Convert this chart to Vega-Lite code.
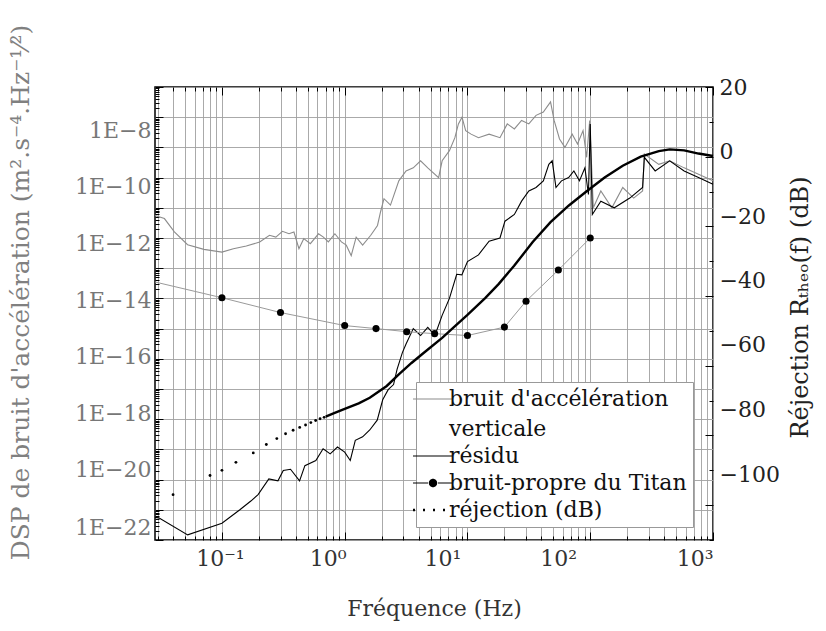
{
  "$schema": "https://vega.github.io/schema/vega-lite/v6.json",
  "width": 558,
  "height": 453,
  "autosize": {"type": "none"},
  "padding": {"left": 155, "top": 87, "right": 113, "bottom": 91},
  "background": "white",
  "config": {
    "view": {"stroke": "#000", "strokeWidth": 1.5},
    "font": "DejaVu Serif",
    "axis": {
      "labelFont": "DejaVu Serif", "titleFont": "DejaVu Serif",
      "labelFontSize": 22, "titleFontSize": 22, "titleFontWeight": "normal",
      "domain": false, "tickColor": "#000", "tickWidth": 1,
      "gridColor": "#a0a0a0", "gridWidth": 0.9, "labelOverlap": false
    }
  },
  "datasets": {
    "gray": [
      {"f": 0.0285, "v": 5.6e-12}, {"f": 0.034, "v": 4.4e-12}, {"f": 0.041, "v": 1.6e-12}, {"f": 0.0525, "v": 6.0e-13},
      {"f": 0.0713, "v": 4.2e-13}, {"f": 0.1, "v": 3.4e-13}, {"f": 0.124, "v": 4.4e-13}, {"f": 0.158, "v": 5.4e-13},
      {"f": 0.203, "v": 7.4e-13}, {"f": 0.244, "v": 1.23e-12}, {"f": 0.275, "v": 1.07e-12}, {"f": 0.311, "v": 1.66e-12},
      {"f": 0.352, "v": 1.38e-12}, {"f": 0.386, "v": 1.58e-12}, {"f": 0.424, "v": 4.4e-13}, {"f": 0.464, "v": 9.5e-13},
      {"f": 0.525, "v": 6.5e-13}, {"f": 0.612, "v": 1.38e-12}, {"f": 0.671, "v": 1.07e-12}, {"f": 0.736, "v": 7.4e-13},
      {"f": 0.832, "v": 1.38e-12}, {"f": 0.94, "v": 7.4e-13}, {"f": 1.03, "v": 5.8e-13}, {"f": 1.13, "v": 2.6e-13},
      {"f": 1.24, "v": 1.07e-12}, {"f": 1.4, "v": 5.8e-13}, {"f": 1.63, "v": 1.23e-12}, {"f": 1.85, "v": 2.6e-12},
      {"f": 1.96, "v": 7.4e-12}, {"f": 2.09, "v": 2.0e-11}, {"f": 2.36, "v": 1.23e-11}, {"f": 2.76, "v": 7.8e-11},
      {"f": 3.16, "v": 1.66e-10}, {"f": 3.62, "v": 2.1e-10}, {"f": 4.15, "v": 3.6e-10}, {"f": 4.75, "v": 2.1e-10},
      {"f": 5.82, "v": 1.0e-10}, {"f": 6.22, "v": 3.6e-10}, {"f": 7.13, "v": 7.8e-10}, {"f": 7.9, "v": 2.1e-9},
      {"f": 8.44, "v": 6.0e-9}, {"f": 9.03, "v": 1.0e-8}, {"f": 9.67, "v": 3.6e-9}, {"f": 10.7, "v": 2.75e-9},
      {"f": 12.3, "v": 2.1e-9}, {"f": 15.0, "v": 2.75e-9}, {"f": 18.4, "v": 2.1e-9}, {"f": 21.1, "v": 6.0e-9},
      {"f": 24.1, "v": 4.1e-9}, {"f": 27.6, "v": 7.8e-9}, {"f": 31.6, "v": 6.0e-9}, {"f": 36.2, "v": 1.15e-8},
      {"f": 41.5, "v": 1.48e-8}, {"f": 47.5, "v": 3.2e-8}, {"f": 50.8, "v": 7.8e-9}, {"f": 56.2, "v": 1.9e-9},
      {"f": 62.2, "v": 1.0e-9}, {"f": 71.3, "v": 2.75e-9}, {"f": 78.8, "v": 1.3e-9}, {"f": 87.4, "v": 3.6e-9},
      {"f": 93.5, "v": 4.7e-10}, {"f": 99, "v": 7.8e-9}, {"f": 106, "v": 1.0e-11}, {"f": 122, "v": 3.6e-11},
      {"f": 150, "v": 1.0e-11}, {"f": 184, "v": 4.7e-11}, {"f": 226, "v": 2.1e-11}, {"f": 267, "v": 3.6e-11},
      {"f": 276, "v": 6.0e-10}, {"f": 362, "v": 2.75e-10}, {"f": 444, "v": 3.6e-10}, {"f": 582, "v": 2.1e-10},
      {"f": 762, "v": 1.3e-10}, {"f": 1000, "v": 7.8e-11}
    ],
    "res": [
      {"f": 0.0285, "v": 5.6e-22}, {"f": 0.0306, "v": 5.4e-22}, {"f": 0.0526, "v": 1.48e-22}, {"f": 0.1, "v": 3.6e-22},
      {"f": 0.14, "v": 1.0e-21}, {"f": 0.172, "v": 1.95e-21}, {"f": 0.197, "v": 3.2e-21}, {"f": 0.241, "v": 1.05e-20},
      {"f": 0.286, "v": 9.1e-21}, {"f": 0.316, "v": 2.0e-20}, {"f": 0.362, "v": 2.2e-20}, {"f": 0.429, "v": 9.1e-21},
      {"f": 0.474, "v": 2.9e-20}, {"f": 0.582, "v": 4.3e-20}, {"f": 0.667, "v": 1.05e-19}, {"f": 0.762, "v": 7.1e-20},
      {"f": 0.873, "v": 1.2e-19}, {"f": 1.0, "v": 8.1e-20}, {"f": 1.11, "v": 4.3e-20}, {"f": 1.22, "v": 2.0e-19},
      {"f": 1.4, "v": 2.6e-19}, {"f": 1.6, "v": 4.4e-19}, {"f": 1.84, "v": 9.3e-19}, {"f": 2.04, "v": 4.4e-18},
      {"f": 2.26, "v": 9.5e-18}, {"f": 2.5, "v": 1.4e-17}, {"f": 2.67, "v": 4.5e-17}, {"f": 2.95, "v": 1.6e-16},
      {"f": 3.16, "v": 3.1e-16}, {"f": 3.62, "v": 1.0e-15}, {"f": 4.15, "v": 5.9e-16}, {"f": 4.75, "v": 1.1e-15},
      {"f": 5.43, "v": 5.9e-16}, {"f": 6.22, "v": 2.75e-15}, {"f": 7.13, "v": 1.0e-14}, {"f": 8.17, "v": 6.3e-14},
      {"f": 9.0, "v": 6.0e-14}, {"f": 10, "v": 1.66e-13}, {"f": 12.3, "v": 2.75e-13}, {"f": 15, "v": 7.8e-13},
      {"f": 18.4, "v": 1.0e-12}, {"f": 20.2, "v": 3.6e-12}, {"f": 24.1, "v": 6.0e-12}, {"f": 27.6, "v": 1.66e-11},
      {"f": 31.6, "v": 3.6e-11}, {"f": 36.2, "v": 4.7e-11}, {"f": 41.5, "v": 7.8e-11}, {"f": 46, "v": 2.75e-10},
      {"f": 49, "v": 3.6e-10}, {"f": 52.6, "v": 4.7e-11}, {"f": 58.3, "v": 7.8e-11}, {"f": 66.7, "v": 1.0e-10},
      {"f": 73.6, "v": 1.66e-10}, {"f": 81.7, "v": 7.8e-11}, {"f": 90.5, "v": 2.1e-10}, {"f": 96.7, "v": 2.75e-11},
      {"f": 100, "v": 6.0e-9}, {"f": 104, "v": 6.0e-12}, {"f": 122, "v": 1.66e-11}, {"f": 157, "v": 1.0e-11},
      {"f": 210, "v": 2.1e-11}, {"f": 267, "v": 4.7e-11}, {"f": 276, "v": 4.7e-10}, {"f": 338, "v": 1.66e-10},
      {"f": 444, "v": 3.6e-10}, {"f": 582, "v": 1.66e-10}, {"f": 762, "v": 1.0e-10}, {"f": 1000, "v": 6.0e-11}
    ],
    "titan": [
      {"f": 0.0285, "v": 3.5e-14, "m": 0}, {"f": 0.1, "v": 1.05e-14, "m": 1}, {"f": 0.3, "v": 3.4e-15, "m": 1},
      {"f": 1, "v": 1.26e-15, "m": 1}, {"f": 1.8, "v": 1.0e-15, "m": 1}, {"f": 3.2, "v": 7.9e-16, "m": 1},
      {"f": 5.4, "v": 6.8e-16, "m": 1}, {"f": 10, "v": 5.9e-16, "m": 1}, {"f": 20, "v": 1.12e-15, "m": 1},
      {"f": 30, "v": 8.1e-15, "m": 1}, {"f": 55, "v": 8.7e-14, "m": 1}, {"f": 100, "v": 1.0e-12, "m": 1}
    ],
    "rejdots": [
      {"f": 0.04, "db": -97}, {"f": 0.08, "db": -91.5}, {"f": 0.1, "db": -90}, {"f": 0.13, "db": -87.7},
      {"f": 0.18, "db": -85}, {"f": 0.23, "db": -82.6}, {"f": 0.28, "db": -80.9}, {"f": 0.33, "db": -79.5},
      {"f": 0.38, "db": -78.5}, {"f": 0.43, "db": -77.7}, {"f": 0.48, "db": -77}, {"f": 0.53, "db": -76.3},
      {"f": 0.58, "db": -75.7}, {"f": 0.63, "db": -75.2}, {"f": 0.68, "db": -74.8}
    ],
    "rejline": [
      {"f": 0.7, "db": -74.6}, {"f": 0.82, "db": -73.6}, {"f": 1, "db": -72.4}, {"f": 1.3, "db": -70.8},
      {"f": 1.6, "db": -69.2}, {"f": 2.2, "db": -65.8}, {"f": 2.76, "db": -62.5}, {"f": 3.5, "db": -59.2},
      {"f": 4.44, "db": -56.2}, {"f": 6.22, "db": -52}, {"f": 8, "db": -48.5}, {"f": 10, "db": -45.4},
      {"f": 14, "db": -40.5}, {"f": 18, "db": -36.5}, {"f": 24, "db": -31.3}, {"f": 34, "db": -24.5},
      {"f": 47.5, "db": -18.8}, {"f": 67, "db": -14}, {"f": 93, "db": -10}, {"f": 131, "db": -6},
      {"f": 184, "db": -2.6}, {"f": 258, "db": 0}, {"f": 362, "db": 1.6}, {"f": 444, "db": 2.1},
      {"f": 582, "db": 1.8}, {"f": 762, "db": 0.9}, {"f": 1000, "db": 0.2}
    ]
  },
  "encoding": {
    "x": {
      "field": "f", "type": "quantitative",
      "scale": {"type": "log", "domain": [0.0285, 1000], "nice": false},
      "axis": {
        "title": "Fréquence (Hz)", "titleColor": "#333", "titleFontSize": 22, "titleX": 279, "titleY": 68,
        "titleAlign": "center", "titleBaseline": "middle",
        "values": [0.03,0.04,0.05,0.06,0.07,0.08,0.09,0.1,0.2,0.3,0.4,0.5,0.6,0.7,0.8,0.9,1,2,3,4,5,6,7,8,9,10,20,30,40,50,60,70,80,90,100,200,300,400,500,600,700,800,900,1000],
        "labelExpr": "datum.value == 0.1 ? '10⁻¹' : datum.value == 1 ? '10⁰' : datum.value == 10 ? '10¹' : datum.value == 100 ? '10²' : datum.value == 1000 ? '10³' : ''",
        "labelColor": "#333", "labelPadding": 16, "grid": true,
        "tickSize": {"condition": {"test": "abs(log(datum.value)/LN10 - round(log(datum.value)/LN10)) < 1e-6", "value": -8}, "value": -4},
        "labelOffset": {"condition": [
          {"test": "datum.value == 0.1", "value": -2},
          {"test": "datum.value == 1", "value": -17},
          {"test": "datum.value == 10", "value": -25},
          {"test": "datum.value == 100", "value": -32}
        ], "value": 0}
      }
    }
  },
  "layer": [
    {
      "encoding": {
        "y": {
          "field": "v", "type": "quantitative",
          "scale": {"type": "log", "domain": [1e-22, 1e-7], "nice": false},
          "axis": {
            "orient": "left", "title": "DSP de bruit d'accélération (m².s⁻⁴.Hz⁻¹⁄²)",
            "titleColor": "#808080", "labelColor": "#777", "titleFontSize": 25,
            "titleX": -135, "titleY": 205, "titleAngle": 270, "titleAlign": "center", "titleBaseline": "middle",
            "values": [1e-22,2e-22,3e-22,4e-22,5e-22,6e-22,7e-22,8e-22,9e-22,1e-21,2e-21,3e-21,4e-21,5e-21,6e-21,7e-21,8e-21,9e-21,1e-20,2e-20,3e-20,4e-20,5e-20,6e-20,7e-20,8e-20,9e-20,1e-19,2e-19,3e-19,4e-19,5e-19,6e-19,7e-19,8e-19,9e-19,1e-18,2e-18,3e-18,4e-18,5e-18,6e-18,7e-18,8e-18,9e-18,1e-17,2e-17,3e-17,4e-17,5e-17,6e-17,7e-17,8e-17,9e-17,1e-16,2e-16,3e-16,4e-16,5e-16,6e-16,7e-16,8e-16,9e-16,1e-15,2e-15,3e-15,4e-15,5e-15,6e-15,7e-15,8e-15,9e-15,1e-14,2e-14,3e-14,4e-14,5e-14,6e-14,7e-14,8e-14,9e-14,1e-13,2e-13,3e-13,4e-13,5e-13,6e-13,7e-13,8e-13,9e-13,1e-12,2e-12,3e-12,4e-12,5e-12,6e-12,7e-12,8e-12,9e-12,1e-11,2e-11,3e-11,4e-11,5e-11,6e-11,7e-11,8e-11,9e-11,1e-10,2e-10,3e-10,4e-10,5e-10,6e-10,7e-10,8e-10,9e-10,1e-9,2e-9,3e-9,4e-9,5e-9,6e-9,7e-9,8e-9,9e-9,1e-8,2e-8,3e-8,4e-8,5e-8,6e-8,7e-8,8e-8,9e-8,1e-7],
            "labelExpr": "abs(log(datum.value)/LN10 - round(log(datum.value)/LN10)) < 1e-6 && round(log(datum.value)/LN10) % 2 == 0 ? '1E' + format(round(log(datum.value)/LN10), 'd') : ''",
            "labelPadding": 12, "grid": true,
            "gridOpacity": {"condition": {"test": "abs(log(datum.value)/LN10 - round(log(datum.value)/LN10)) < 1e-6", "value": 1}, "value": 0},
            "tickSize": {"condition": {"test": "abs(log(datum.value)/LN10 - round(log(datum.value)/LN10)) < 1e-6", "value": -8}, "value": -4},
            "labelOffset": {"condition": [
              {"test": "datum.value == 1e-8", "value": 13},
              {"test": "datum.value == 1e-10", "value": 9},
              {"test": "datum.value == 1e-12", "value": 5},
              {"test": "datum.value == 1e-14", "value": 2},
              {"test": "datum.value == 1e-16", "value": -2},
              {"test": "datum.value == 1e-18", "value": -6},
              {"test": "datum.value == 1e-20", "value": -10},
              {"test": "datum.value == 1e-22", "value": -13}
            ], "value": 0}
          }
        }
      },
      "layer": [
        {
          "data": {"name": "gray"},
          "mark": {"type": "line", "strokeWidth": 1.1, "interpolate": "linear"},
          "encoding": {
            "color": {
              "datum": "bruit d'accélération verticale", "type": "nominal",
              "scale": {
                "domain": ["bruit d'accélération verticale", "résidu", "bruit-propre du Titan", "réjection (dB)"],
                "range": ["#8c8c8c", "#000000", "#000000", "#000000"]
              },
              "legend": {
                "orient": "none", "legendX": 261, "legendY": 295, "title": null,
                "fillColor": "white", "strokeColor": "#999", "padding": 6,
                "labelFont": "DejaVu Serif", "labelFontSize": 22, "labelColor": "#111",
                "labelOffset": 5, "rowPadding": 5, "labelLimit": 500,
                "symbolSize": 1600, "symbolStrokeWidth": 1.2,
                "labelExpr": "datum.label == \"bruit d'accélération verticale\" ? [\"bruit d'accélération\", \"verticale\"] : datum.label",
                "encode": {
                  "symbols": {"update": {
                    "shape": {"signal": "datum.value == 'bruit-propre du Titan' ? 'M-1,0H-0.25M0.25,0H1M-0.18,0A0.18,0.18,0,1,1,0.18,0A0.18,0.18,0,1,1,-0.18,0Z' : 'stroke'"},
                    "stroke": {"signal": "datum.value == \"bruit d'accélération verticale\" ? '#8c8c8c' : datum.value == 'bruit-propre du Titan' ? '#999' : '#000'"},
                    "fill": {"signal": "datum.value == 'bruit-propre du Titan' ? '#000' : 'transparent'"},
                    "strokeWidth": {"signal": "datum.value == 'réjection (dB)' ? 2.5 : 1.2"},
                    "strokeDash": {"signal": "datum.value == 'réjection (dB)' ? [2, 8] : [1, 0]"}
                  }},
                  "labels": {"update": {"lineHeight": {"value": 30}}}
                }
              }
            }
          }
        },
        {
          "data": {"name": "res"},
          "mark": {"type": "line", "strokeWidth": 1.1},
          "encoding": {"color": {"datum": "résidu", "type": "nominal"}}
        },
        {
          "data": {"name": "titan"},
          "mark": {"type": "line", "strokeWidth": 1, "color": "#9a9a9a"},
          "encoding": {}
        },
        {
          "data": {"name": "titan"},
          "transform": [{"filter": "datum.m == 1"}],
          "mark": {"type": "point", "filled": true, "size": 50, "opacity": 1},
          "encoding": {"color": {"datum": "bruit-propre du Titan", "type": "nominal"}}
        }
      ]
    },
    {
      "encoding": {
        "x": {
          "field": "f", "type": "quantitative",
          "axis": {
            "orient": "top", "title": null, "labels": false, "grid": false,
            "values": [0.03,0.04,0.05,0.06,0.07,0.08,0.09,0.1,0.2,0.3,0.4,0.5,0.6,0.7,0.8,0.9,1,2,3,4,5,6,7,8,9,10,20,30,40,50,60,70,80,90,100,200,300,400,500,600,700,800,900,1000],
            "tickSize": {"condition": {"test": "abs(log(datum.value)/LN10 - round(log(datum.value)/LN10)) < 1e-6", "value": -8}, "value": -4}
          }
        },
        "y": {
          "field": "db", "type": "quantitative",
          "scale": {"domain": [-110, 20], "nice": false, "zero": false},
          "axis": {
            "orient": "right", "title": "Réjection Rₜₕₑₒ(f) (dB)",
            "titleColor": "#222", "labelColor": "#222", "titleFontSize": 24,
            "titleX": 87, "titleY": 220, "titleAngle": 270, "titleAlign": "center", "titleBaseline": "middle",
            "values": [-110,-100,-90,-80,-70,-60,-50,-40,-30,-20,-10,0,10,20],
            "labelExpr": "datum.value % 20 == 0 ? datum.label : ''",
            "labelPadding": 14, "grid": false,
            "tickSize": {"condition": {"test": "datum.value % 20 == 0", "value": -8}, "value": -4},
            "labelOffset": {"condition": [
              {"test": "datum.value == 0", "value": -5},
              {"test": "datum.value == -20", "value": -10},
              {"test": "datum.value == -40", "value": -16},
              {"test": "datum.value == -60", "value": -21},
              {"test": "datum.value == -80", "value": -26},
              {"test": "datum.value == -100", "value": -31}
            ], "value": 0}
          }
        }
      },
      "layer": [
        {
          "data": {"name": "rejdots"},
          "mark": {"type": "point", "filled": true, "size": 8, "opacity": 1},
          "encoding": {"color": {"datum": "réjection (dB)", "type": "nominal"}}
        },
        {
          "data": {"name": "rejline"},
          "mark": {"type": "line", "strokeWidth": 2.4, "color": "#000"},
          "encoding": {}
        }
      ]
    }
  ],
  "resolve": {"scale": {"y": "independent"}, "axis": {"x": "independent"}}
}
